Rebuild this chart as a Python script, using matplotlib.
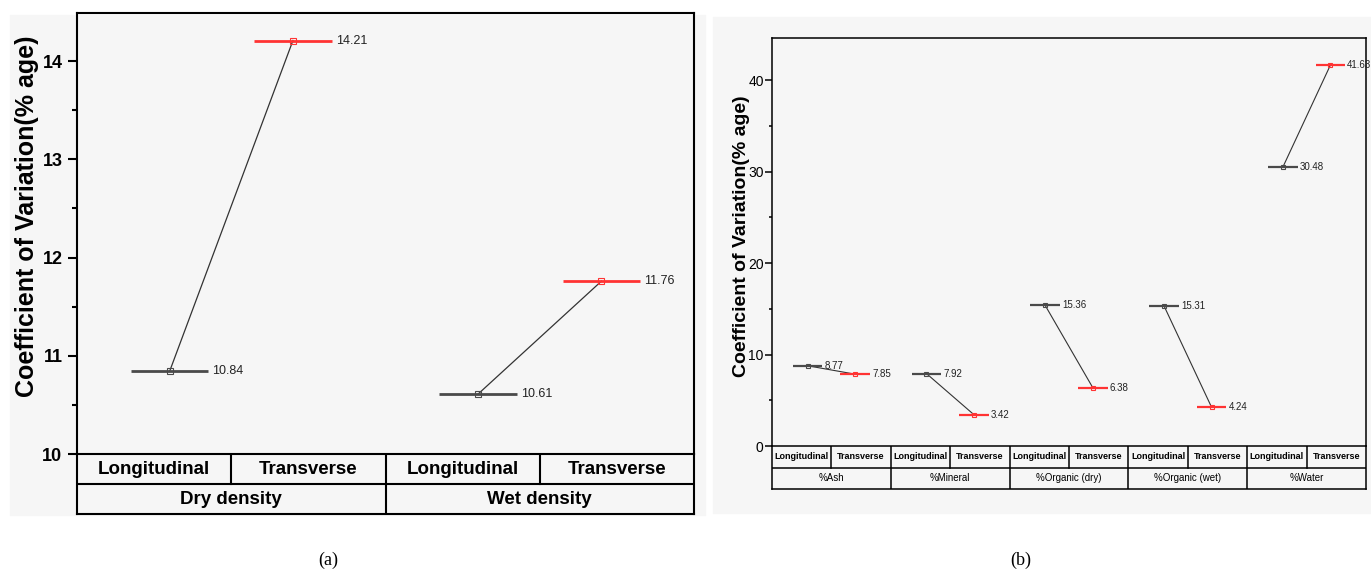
"""Coefficient of variation, longitudinal vs transverse — two panels with grouped table axes."""
import numpy as np
import matplotlib
matplotlib.use("Agg")
import matplotlib.pyplot as plt
from matplotlib.patches import Rectangle

W, H = 1371, 570

# --- data ---
sub_cats = ["Longitudinal", "Transverse"]

groups_a = ["Dry density", "Wet density"]
long_a = [10.84, 10.61]
trans_a = [14.21, 11.76]

groups_b = ["%Ash", "%Mineral", "%Organic (dry)", "%Organic (wet)", "%Water"]
long_b = [8.77, 7.92, 15.36, 15.31, 30.48]
trans_b = [7.85, 3.42, 6.38, 4.24, 41.63]

GRAY = "#4a4a4a"
RED = "#ff3333"
BG = "#f6f6f6"
NARROW = ["Liberation Sans Narrow", "Liberation Sans", "DejaVu Sans"]
SANS = ["Liberation Sans", "DejaVu Sans"]


def frac(x0, y0, x1, y1):
    return [x0 / W, 1 - y1 / H, (x1 - x0) / W, (y1 - y0) / H]


def draw_panel(fig, box, tbox, groups, lv, tv, ylim, major, minor, st):
    ax = fig.add_axes(frac(*box))
    ax.set_facecolor("none")
    n = len(groups) * 2
    ax.set_xlim(0.5, n + 0.5)
    ax.set_ylim(*ylim)
    ax.set_xticks([])
    ax.set_yticks(np.arange(ylim[0], ylim[1] + 1e-9, major))
    ax.set_yticks(np.arange(ylim[0], ylim[1] + 1e-9, minor), minor=True)
    for s in ax.spines.values():
        s.set_linewidth(st["spine"])
    ax.spines["bottom"].set_visible(False)
    ax.tick_params(axis="y", which="major", direction="out", length=st["tl"],
                   width=st["spine"], pad=st["pad"])
    ax.tick_params(axis="y", which="minor", direction="out", length=st["tl"] * 0.5,
                   width=st["spine"])
    for lab in ax.get_yticklabels():
        lab.set_fontfamily(st["tickfam"])
        lab.set_fontsize(st["tickfs"])
        lab.set_fontweight(st["tickw"])
    ax.set_ylabel("Coefficient of Variation(% age)", fontsize=st["labfs"],
                  fontweight="bold", family=SANS)
    ax.yaxis.set_label_coords(st["labx"], st["laby"])

    off, hw = 0.1, 0.25
    for i in range(len(groups)):
        xl = 2 * i + 1 + off
        xt = 2 * i + 2 - off
        ax.plot([xl, xt], [lv[i], tv[i]], color="#333333", lw=st["conn"], zorder=2)
        for x, v, c in [(xl, lv[i], GRAY), (xt, tv[i], RED)]:
            ax.hlines(v, x - hw, x + hw, color=c, lw=st["mlw"], zorder=3)
            ax.plot([x], [v], marker="s", mfc="none", mec=c, ms=st["ms"], mew=0.8, zorder=4)
            ax.annotate(f"{v:.2f}", (x + hw, v), xytext=(st["gap"], 0),
                        textcoords="offset points", va="center", ha="left",
                        fontsize=st["valfs"], family=st["valfam"], color="#222222")

    tab = fig.add_axes(frac(*tbox))
    tab.set_facecolor("none")
    tab.set_xlim(0.5, n + 0.5)
    tab.set_ylim(2, 0)
    tab.set_xticks([])
    tab.set_yticks([])
    for s in tab.spines.values():
        s.set_linewidth(st["spine"])
    lw = st["spine"]
    tab.plot([0.5, n + 0.5], [1, 1], color="black", lw=lw)
    for k in range(1, n):
        y1 = 2 if k % 2 == 0 else 1
        tab.plot([k + 0.5, k + 0.5], [0, y1], color="black", lw=lw)
    for k in range(n):
        tab.text(k + 1, 0.5, sub_cats[k % 2], ha="center", va="center",
                 fontsize=st["catfs"], fontweight="bold", family=st["catfam"])
    for i, g in enumerate(groups):
        tab.text(2 * i + 1.5, 1.5, g, ha="center", va="center",
                 fontsize=st["grpfs"], fontweight=st["grpw"], family=st["catfam"])
    return ax


fig = plt.figure(figsize=(W / 100, H / 100), dpi=100)
fig.patches.append(Rectangle((10 / W, 1 - 515 / H), 695 / W, 500 / H,
                             transform=fig.transFigure, color=BG, zorder=-10))
fig.patches.append(Rectangle((713 / W, 1 - 513 / H), 658 / W, 496 / H,
                             transform=fig.transFigure, color=BG, zorder=-10))

style_a = dict(spine=1.5, tl=6.5, pad=4, tickfam=SANS, tickfs=13, tickw="bold",
               labfs=18, labx=-0.062, laby=0.54, conn=0.9, mlw=2.0, ms=5, gap=3,
               valfs=9, valfam=SANS, catfs=13.5, catfam=SANS, grpfs=13.5, grpw="bold")
draw_panel(fig, (77, 13, 694, 454), (77, 454, 694, 514), groups_a, long_a, trans_a,
           (10, 14.49), 1, 0.5, style_a)

style_b = dict(spine=1.1, tl=5, pad=1, tickfam=NARROW, tickfs=10, tickw="normal",
               labfs=14, labx=-0.037, laby=0.515, conn=0.8, mlw=1.6, ms=3, gap=1.5,
               valfs=7, valfam=NARROW, catfs=6.5, catfam=NARROW, grpfs=7, grpw="normal")
draw_panel(fig, (772, 38, 1366, 446), (772, 446, 1366, 489), groups_b, long_b, trans_b,
           (0, 44.6), 10, 5, style_b)

fig.text(328 / W, 1 - 560 / H, "(a)", ha="center", va="center", fontsize=13,
         family=["Liberation Serif", "DejaVu Serif"])
fig.text(1021 / W, 1 - 560 / H, "(b)", ha="center", va="center", fontsize=13,
         family=["Liberation Serif", "DejaVu Serif"])

fig.savefig("out.png", dpi=100)
